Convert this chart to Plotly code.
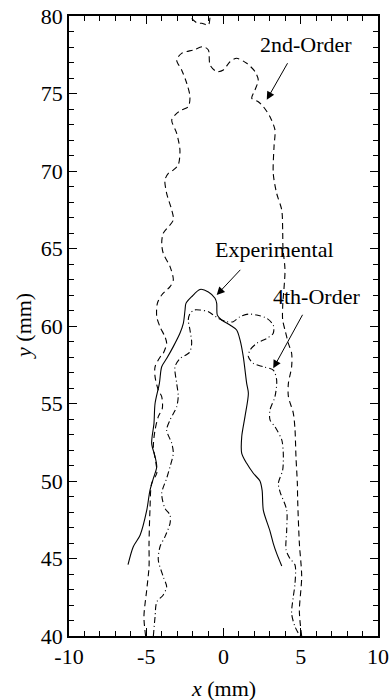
import plotly.graph_objects as go

# Experimental (solid)
exp_x = [-6.18, -5.84, -5.4, -4.97, -4.76, -4.54, -4.32, -4.43, -4.65, -4.5, -4.43, -4.15, -4.0, -3.68,
         -3.25, -2.82, -2.6, -2.49, -2.43, -2.06, -1.52, -0.98, -0.55, -0.44, -0.40, -0.12, 0.42, 0.85,
         1.07, 1.28, 1.5, 1.61, 1.39, 1.18, 1.18, 1.5, 1.93, 2.36, 2.5, 2.58, 3.0, 3.22, 3.44, 3.77]
exp_y = [44.6, 45.76, 46.5, 48.1, 49.4, 50.17, 50.92, 51.57, 52.43, 53.72, 55.0, 56.3, 57.37, 57.9,
         58.67, 59.53, 60.17, 61.03, 61.46, 61.89, 62.36, 62.2, 61.79, 61.46, 60.7, 60.39, 60.06, 59.74,
         59.1, 58.02, 56.3, 55.66, 54.15, 52.86, 51.79, 51.14, 50.5, 50.0, 49.4, 48.1, 46.8, 45.98, 45.33, 44.52]

# 2nd-Order (dashed)
o2_x = [-5.04, -5.15, -4.97, -4.82, -4.82, -4.76, -4.65, -4.32, -4.37, -4.54, -4.43, -4.22, -3.96, -4.0,
        -4.22, -4.43, -4.43, -4.1, -3.9, -3.68, -3.79, -4.11, -4.32, -4.28, -4.0, -3.46, -3.25, -3.46,
        -3.9, -4.0, -3.9, -3.25, -3.35, -3.68, -3.79, -3.57, -3.25, -2.93, -2.82, -3.03, -3.35, -3.03,
        -2.71, -2.28, -2.17, -2.38, -2.71, -3.03, -2.71, -1.95, -1.31, -0.98, -0.87, -0.44, -0.01, 0.42,
        0.85, 1.5, 2.04, 2.25, 2.04, 1.83, 2.25, 2.58, 3.01, 3.33, 3.27, 3.22, 3.44, 3.77, 3.83, 3.85,
        3.98, 3.83, 3.83, 3.98, 4.2, 4.41, 4.41, 4.2, 4.2, 4.52, 4.63, 4.69, 4.78, 4.8, 4.91, 5.06, 4.91, 5.06]
o2_y = [40.0, 41.24, 42.97, 44.47, 45.98, 48.13, 49.85, 50.5, 51.14, 52.21, 53.29, 54.15, 54.69, 55.44,
        55.87, 56.73, 57.37, 58.0, 58.24, 58.88, 59.31, 59.95, 60.6, 61.46, 62.0, 62.54, 62.97, 63.83,
        64.69, 65.33, 65.98, 66.84, 67.48, 68.56, 69.42, 69.85, 70.06, 70.39, 71.35, 72.43, 73.29, 73.72,
        73.94, 74.15, 74.8, 75.66, 76.52, 77.16, 77.59, 77.81, 78.02, 77.81, 76.84, 76.41, 76.52, 77.05,
        77.27, 76.95, 76.41, 75.87, 75.23, 74.69, 74.47, 74.15, 73.5, 72.65, 71.57, 69.85, 68.56, 67.48,
        66.19, 65.0, 63.61, 61.25, 60.39, 59.74, 58.88, 58.24, 57.37, 56.3, 55.44, 54.37, 53.29, 51.57,
        49.85, 48.77, 45.98, 43.83, 41.59, 40.0]
o2_top_x = [-2.4, -2.06, -1.7, -1.41, -0.98, -0.87, -0.86]
o2_top_y = [80.4, 79.85, 79.55, 79.53, 79.42, 79.96, 80.4]

# 4th-Order (dash-dot)
o4_x = [-4.54, -4.43, -4.32, -3.9, -3.68, -3.9, -4.22, -4.11, -3.79, -3.46, -3.46, -3.79, -4.0, -3.68,
        -3.46, -3.25, -3.35, -3.68, -3.46, -3.03, -2.93, -3.03, -3.14, -2.82, -2.2, -2.06, -2.17, -2.28,
        -2.17, -1.9, -1.52, -0.98, -0.66, -0.34, 0.21, 0.63, 1.07, 1.61, 2.15, 2.8, 3.22, 3.22, 2.8, 2.15,
        1.72, 1.61, 1.93, 2.58, 3.22, 3.44, 3.33, 3.01, 3.01, 3.33, 3.77, 3.87, 3.83, 3.55, 3.66, 4.09,
        4.09, 4.05, 4.3, 4.63, 4.63, 4.52, 4.41, 4.63, 4.95]
o4_y = [40.0, 41.24, 42.2, 42.65, 43.18, 43.83, 44.9, 45.76, 46.4, 47.27, 47.8, 48.24, 49.2, 50.17,
        50.92, 51.79, 52.43, 53.29, 53.94, 54.79, 55.5, 56.3, 57.37, 57.9, 58.3, 58.88, 59.74, 60.39,
        60.8, 61.03, 61.03, 60.92, 60.71, 60.5, 60.28, 60.28, 60.6, 60.77, 60.71, 60.5, 60.06, 59.53, 59.2,
        58.88, 58.45, 58.02, 57.59, 57.37, 57.16, 56.52, 55.44, 54.58, 53.94, 53.5, 52.65, 51.79, 50.71,
        49.85, 49.3, 48.13, 46.84, 45.55, 45.0, 44.58, 43.4, 42.54, 41.46, 40.6, 40.0]

x_ticks = [-10, -5, 0, 5, 10]
x_tick_labels = ["-10", "-5", "0", "5", "10"]
y_ticks = [40, 45, 50, 55, 60, 65, 70, 75, 80]
y_tick_labels = ["40", "45", "50", "55", "60", "65", "70", "75", "80"]

FONT = "Liberation Serif"
FS = 22
fig = go.Figure()
line_common = dict(color="black", width=1.1, shape="spline", smoothing=0.8)
fig.add_trace(go.Scatter(x=exp_x, y=exp_y, mode="lines", line=dict(**line_common, dash="solid")))
fig.add_trace(go.Scatter(x=o2_x, y=o2_y, mode="lines", line=dict(**line_common, dash="6px,4px")))
fig.add_trace(go.Scatter(x=o2_top_x, y=o2_top_y, mode="lines", line=dict(**line_common, dash="6px,4px")))
fig.add_trace(go.Scatter(x=o4_x, y=o4_y, mode="lines", line=dict(**line_common, dash="6px,3px,1px,3px")))

labels = [("2nd-Order", 5.35, 78.15), ("Experimental", 3.3, 64.95), ("4th-Order", 6.05, 61.9)]
for t, lx, ly in labels:
    fig.add_annotation(x=lx, y=ly, text=t, showarrow=False, xref="x", yref="y",
                       font=dict(family=FONT, size=FS, color="black"))
arrows = [(2.8, 74.6, 4.2, 77.05), (-0.44, 62.0, 1.18, 63.72), (3.22, 57.27, 5.17, 60.82)]
for hx, hy, tx, ty in arrows:
    fig.add_annotation(x=hx, y=hy, ax=tx, ay=ty, xref="x", yref="y", axref="x", ayref="y",
                       text="", showarrow=True, arrowhead=2, arrowsize=1.6, arrowwidth=1,
                       arrowcolor="black")
fig.add_annotation(x=0.5, y=-0.084, xref="paper", yref="paper", text="<i>x</i> (mm)",
                   showarrow=False, yanchor="middle", font=dict(family=FONT, size=FS, color="black"))
fig.add_annotation(x=-0.149, y=0.5, xref="paper", yref="paper", text="<i>y</i> (mm)", textangle=-90,
                   showarrow=False, xanchor="center", font=dict(family=FONT, size=FS, color="black"))

axis_common = dict(showline=True, linecolor="black", linewidth=1.5, mirror="allticks",
                   ticks="inside", ticklen=8, tickwidth=1, tickcolor="black",
                   showgrid=False, zeroline=False, automargin=False,
                   tickfont=dict(family=FONT, size=FS, color="black"),
                   minor=dict(ticks="inside", ticklen=5, tickwidth=1, tickcolor="black",
                              tickmode="linear", tick0=0, dtick=1, showgrid=False))
fig.update_layout(
    template="none",
    width=390, height=700, margin=dict(l=69, r=12, t=16, b=64),
    plot_bgcolor="white", paper_bgcolor="white", showlegend=False,
    font=dict(family=FONT, color="black"),
    xaxis=dict(**axis_common, range=[-10, 10], tickmode="array", tickvals=x_ticks,
               ticktext=x_tick_labels),
    yaxis=dict(**axis_common, range=[40, 80], tickmode="array", tickvals=y_ticks,
               ticktext=y_tick_labels),
)
fig.write_html("out.html")
